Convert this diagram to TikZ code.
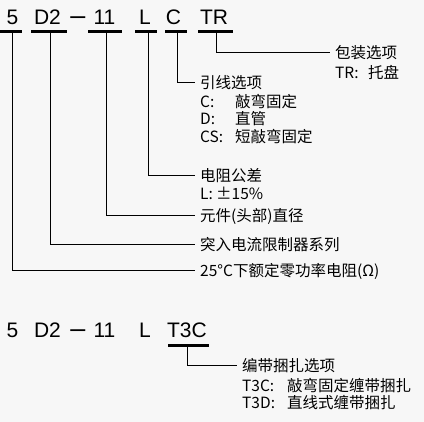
\documentclass[tikz,border=0pt]{standalone}
\usepackage{fontspec}
\setmainfont{Liberation Sans}
\newfontfamily\cjk{Noto Sans CJK SC}
\usepackage{tikz}
\usetikzlibrary{positioning}
\definecolor{bggray}{HTML}{F7F7F7}
\tikzset{
  code/.style={font=\fontsize{21}{25}\selectfont,anchor=base,inner sep=0pt},
  dashc/.style={code,font=\fontsize{27}{29}\selectfont},
  uline/.style={line width=3pt},
  lead/.style={line width=1pt},
  lbl/.style={font=\cjk\fontsize{15.5}{18}\selectfont,anchor=west,
              inner xsep=5pt,inner ysep=0pt},
}
\newcommand{\keyw}[2]{\makebox[#1][l]{#2}}

\begin{document}
\begin{tikzpicture}[x=1pt,y=-1pt]
  \fill[bggray] (0,0) rectangle (424,422);
  \useasboundingbox (0,0) rectangle (424,422);
  % upper code
  \node[code]  (c5)    at (12.5,25)  {5};
  \node[code]  (cd2)   at (47.5,25)  {D2};
  \node[dashc] (cdash) at (78,25)    {–};
  \node[code]  (c11)   at (104.5,25) {11};
  \node[code]  (cl)    at (145,25)   {L};
  \node[code]  (cc)    at (173.5,25) {C};
  \node[code]  (ctr)   at (214,25)   {TR};
  \draw[uline] (0,32) -- (22,32);
  \draw[uline] (31,32) -- (67,32);
  \draw[uline] (88,32) -- (122,32);
  \draw[uline] (135,32) -- (157,32);
  \draw[uline] (165,32) -- (187,32);
  \draw[uline] (198,32) -- (233,32);
  \coordinate (u5)  at (12,32);
  \coordinate (ud2) at (50,32);
  \coordinate (u11) at (106,32);
  \coordinate (ul)  at (148,32);
  \coordinate (uc)  at (177,32);
  \coordinate (utr) at (216,32);
  % labels
  \node[lbl] (ltr) at (330,53) {包装选项};
  \node[lbl] at ([yshift=-19pt]ltr.west) {\keyw{33pt}{TR:}托盘};
  \node[lbl] (lc) at (195,83) {引线选项};
  \node[lbl] at ([yshift=-19pt]lc.west) {\keyw{35pt}{C:}敲弯固定};
  \node[lbl] at ([yshift=-36pt]lc.west) {\keyw{35pt}{D:}直管};
  \node[lbl] at ([yshift=-54pt]lc.west) {\keyw{35pt}{CS:}短敲弯固定};
  \node[lbl] (ll) at (195,176) {电阻公差};
  \node[lbl] at ([yshift=-17pt]ll.west) {\keyw{16pt}{L:}±15\%};
  \node[lbl] (l11) at (195,216) {元件(头部)直径};
  \node[lbl] (ld2) at (195,245) {突入电流限制器系列};
  \node[lbl] (l5)  at (195,271) {25°C下额定零功率电阻(Ω)};
  \draw[lead] (utr) |- (ltr.west);
  \draw[lead] (uc)  |- (lc.west);
  \draw[lead] (ul)  |- (ll.west);
  \draw[lead] (u11) |- (l11.west);
  \draw[lead] (ud2) |- (ld2.west);
  \draw[lead] (u5)  |- (l5.west);
  % lower code
  \node[code]  (b5)    at (12.5,338)  {5};
  \node[code]  (bd2)   at (47.5,338)  {D2};
  \node[dashc] (bdash) at (78,338)    {–};
  \node[code]  (b11)   at (104.5,338) {11};
  \node[code]  (bl)    at (145,338)   {L};
  \node[code]  (bt3c)  at (187,338)   {T3C};
  \draw[uline] (168,346) -- (209,346);
  \coordinate (ut3c) at (187,346);
  \node[lbl] (lt3c) at (237,366) {编带捆扎选项};
  \node[lbl] at ([yshift=-20pt]lt3c.west) {\keyw{45pt}{T3C:}敲弯固定缠带捆扎};
  \node[lbl] at ([yshift=-37pt]lt3c.west) {\keyw{45pt}{T3D:}直线式缠带捆扎};
  \draw[lead] (ut3c) |- (lt3c.west);
\end{tikzpicture}
\end{document}
